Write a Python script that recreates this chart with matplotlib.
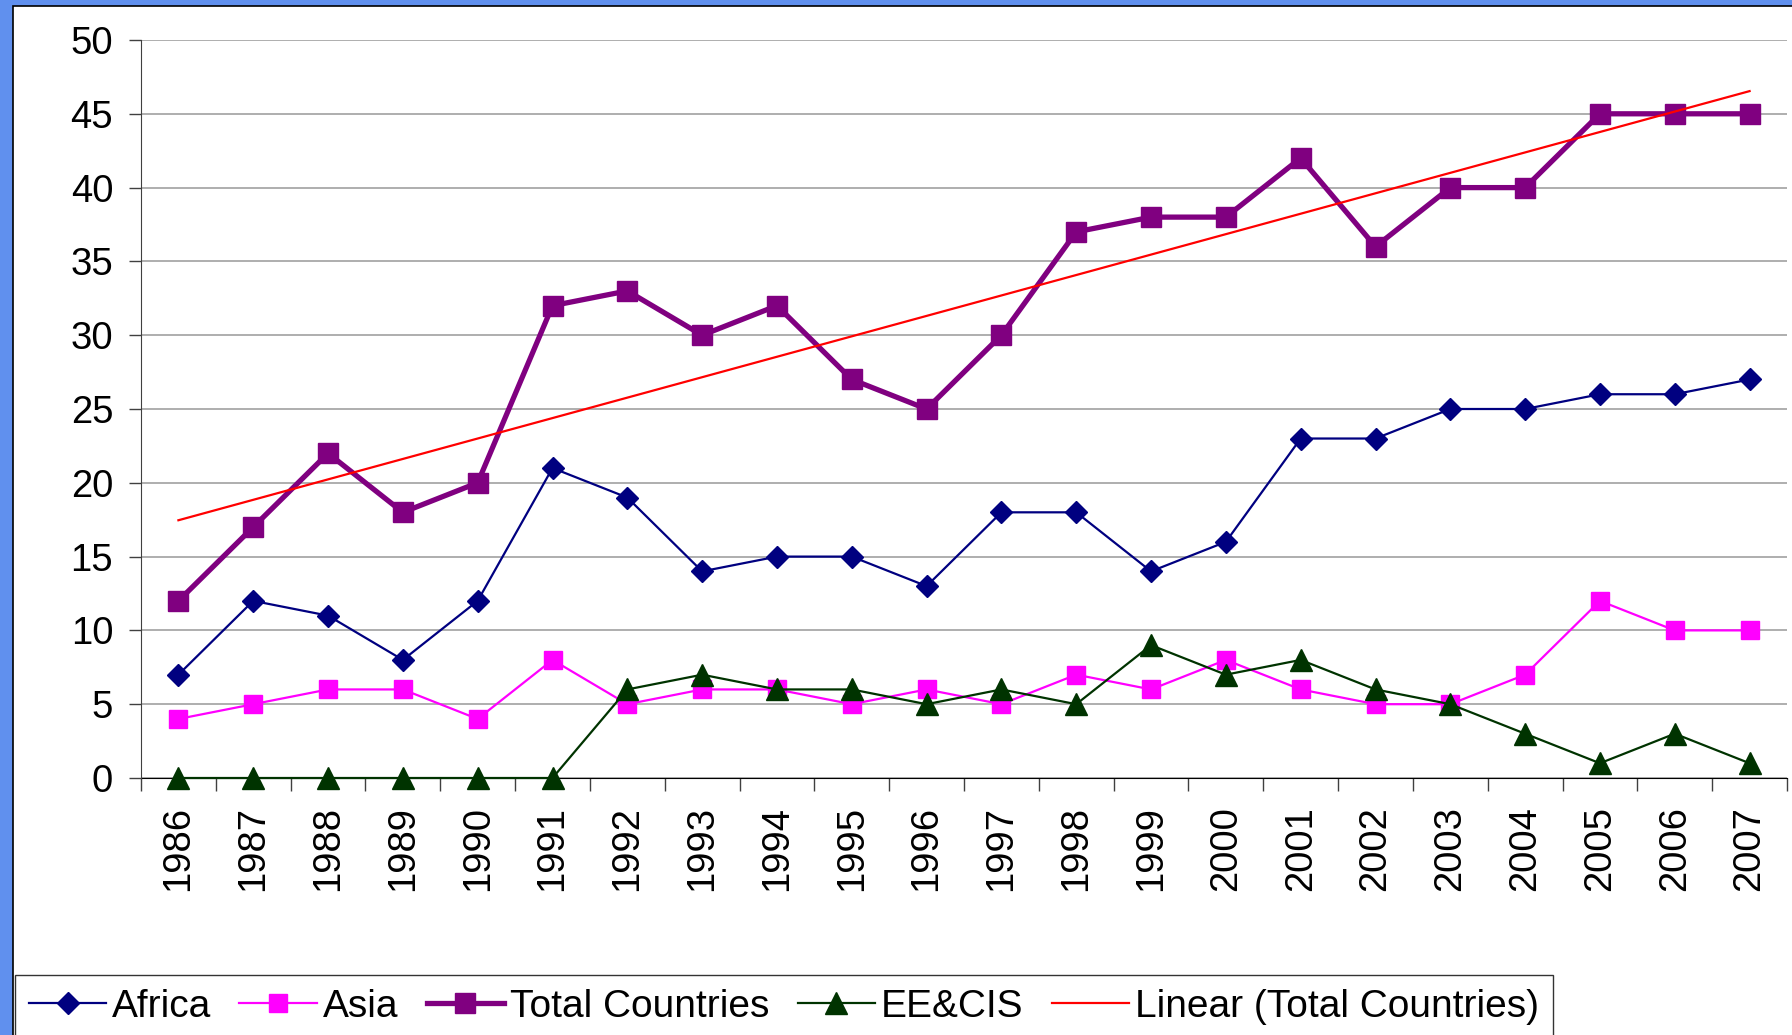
import numpy as np
import matplotlib
matplotlib.use('Agg')
import matplotlib.pyplot as plt
from matplotlib.patches import Rectangle

plt.rcParams['font.family'] = ['Liberation Sans', 'DejaVu Sans']

years = [str(y) for y in range(1986, 2008)]
africa = [7, 12, 11, 8, 12, 21, 19, 14, 15, 15, 13, 18, 18, 14, 16, 23, 23, 25, 25, 26, 26, 27]
asia = [4, 5, 6, 6, 4, 8, 5, 6, 6, 5, 6, 5, 7, 6, 8, 6, 5, 5, 7, 12, 10, 10]
total = [12, 17, 22, 18, 20, 32, 33, 30, 32, 27, 25, 30, 37, 38, 38, 42, 36, 40, 40, 45, 45, 45]
ee_cis = [0, 0, 0, 0, 0, 0, 6, 7, 6, 6, 5, 6, 5, 9, 7, 8, 6, 5, 3, 1, 3, 1]

x = np.arange(len(years))
# linear trend of total, as the spreadsheet draws it
coef = np.polyfit(x, total, 1)
trend = np.polyval(coef, x)

fig = plt.figure(figsize=(17.92, 10.35), dpi=100)
fig.patch.set_facecolor('#6090ee')
fig.patches.append(Rectangle((13 / 1792, -0.01), 1.0, 1 - 6 / 1035 + 0.01,
                             transform=fig.transFigure, facecolor='white',
                             edgecolor='black', linewidth=1.2, zorder=-5))

ax = fig.add_axes([141 / 1792, 1 - 778 / 1035, (1787 - 141) / 1792, (778 - 40) / 1035])
ax.set_facecolor('none')

ax.plot(x, africa, color='#000080', lw=1.6, marker='D', ms=11, label='Africa', zorder=4, clip_on=False)
ax.plot(x, asia, color='#ff00ff', lw=1.6, marker='s', ms=13, label='Asia', zorder=3, clip_on=False)
ax.plot(x, total, color='#800080', lw=3.8, marker='s', ms=15, label='Total Countries', zorder=5, clip_on=False)
ax.plot(x, ee_cis, color='#003300', lw=1.6, marker='^', ms=16, label='EE&CIS', zorder=4, clip_on=False)
ax.plot(x, trend, color='#ff0000', lw=1.6, label='Linear (Total Countries)', zorder=6)

ax.set_xlim(-0.5, len(years) - 0.5)
ax.set_ylim(0, 50)
ax.set_yticks(range(0, 51, 5))
ax.set_xticks(x)
ax.set_xticklabels(years, rotation=90)
ax.set_xticks(np.arange(-0.5, len(years), 1), minor=True)
ax.tick_params(axis='x', which='major', length=0, pad=20, labelsize=27.5)
ax.tick_params(axis='x', which='minor', length=9, width=1, color='#404040', direction='out')
ax.tick_params(axis='y', length=9, width=1, color='#404040', pad=11, labelsize=27.5)

ax.yaxis.grid(True, color='#999999', lw=1.1)
ax.set_axisbelow(True)
for s in ['top', 'right']:
    ax.spines[s].set_visible(False)
ax.spines['left'].set_color('#404040')
ax.spines['bottom'].set_color('black')
ax.spines['bottom'].set_zorder(2)

leg = fig.legend(loc='upper left', bbox_to_anchor=(15 / 1792, 1 - 975 / 1035), ncol=5,
                 fontsize=28, frameon=True, fancybox=False, edgecolor='black',
                 handlelength=2.0, handletextpad=0.15, columnspacing=0.72,
                 borderpad=0.35, borderaxespad=0)
leg.get_frame().set_linewidth(1.0)

fig.savefig('out.png', dpi=100, facecolor=fig.get_facecolor())
